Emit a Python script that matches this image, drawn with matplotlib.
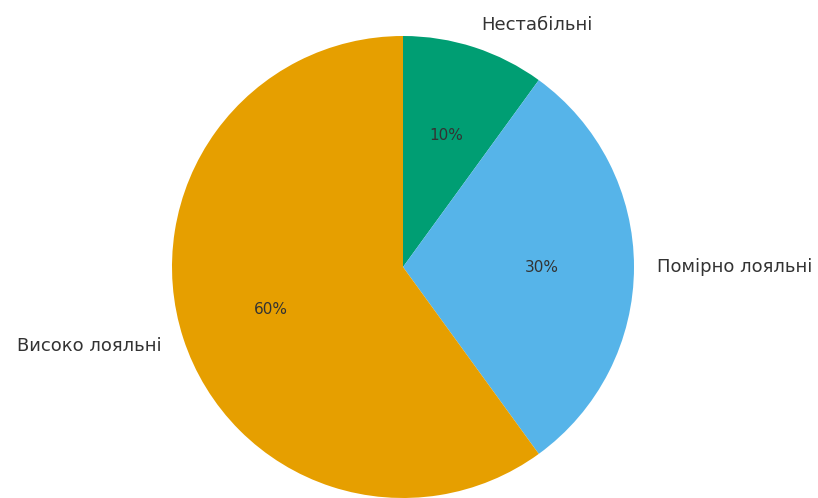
import matplotlib
matplotlib.use("Agg")
import matplotlib.pyplot as plt

# loyalty segments
segments = ["Нестабільні", "Помірно лояльні", "Високо лояльні"]
shares = [10, 30, 60]
colors = ["#009E73", "#56B4E9", "#E69F00"]

fig = plt.figure(figsize=(8.18, 4.98), dpi=100)
ax = fig.add_axes([0, 0, 1, 1])

# pie centred at the origin so label alignment works; limits place it in the frame
wedges, texts, autotexts = ax.pie(
    shares, labels=segments, colors=colors, autopct="%1.0f%%",
    startangle=90, counterclock=False, radius=231,
    textprops=dict(fontsize=13, color="#333333"))
for t in autotexts:
    t.set_fontsize(11)

ax.set_aspect("equal")
ax.set_xlim(-403, 415)
ax.set_ylim(-231, 267)
ax.axis("off")

fig.savefig("out.png", dpi=100)
